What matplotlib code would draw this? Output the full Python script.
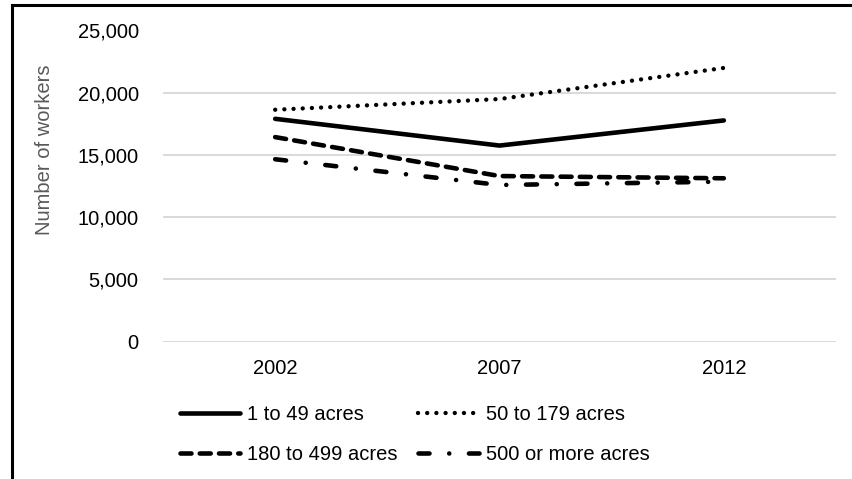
import matplotlib.pyplot as plt
from matplotlib.lines import Line2D

# farm workers by farm size
years = ['2002', '2007', '2012']
acres_1_49 = [17900, 15750, 17770]
acres_50_179 = [18630, 19490, 21990]
acres_180_499 = [16430, 13300, 13120]
acres_500_plus = [14650, 12580, 12850]
labels = ['1 to 49 acres', '50 to 179 acres', '180 to 499 acres', '500 or more acres']

plt.rcParams['font.family'] = ['Liberation Sans', 'DejaVu Sans']

W, H = 853, 479
fig = plt.figure(figsize=(W / 100, H / 100), dpi=100)
ax = fig.add_axes([163 / W, 1 - 341.5 / H, 673 / W, 311 / H])

x = range(len(years))
lw = 3.3
h1, = ax.plot(x, acres_1_49, color='black', lw=lw, solid_capstyle='round', solid_joinstyle='round')
h2, = ax.plot(x, acres_50_179, color='black', lw=lw * 0.95, linestyle=(0, (0.01, 2.1)),
              dash_capstyle='round')
h3, = ax.plot(x, acres_180_499, color='black', lw=lw, linestyle=(0, (2.4, 1.8)),
              dash_capstyle='round', dash_joinstyle='round')
h4, = ax.plot(x, acres_500_plus, color='black', lw=lw, linestyle=(0, (2.4, 4.3, 0.01, 4.3)),
              dash_capstyle='round', dash_joinstyle='round')

ax.set_xlim(-0.5, 2.5)
ax.set_ylim(0, 25000)
ax.set_yticks(range(0, 25001, 5000))
ax.set_yticklabels([f'{v:,}' for v in range(0, 25001, 5000)])
ax.set_xticks(list(x))
ax.set_xticklabels(years)
ax.tick_params(length=0, labelsize=14.5, colors='black')
ax.tick_params(axis='y', pad=17.5)
ax.tick_params(axis='x', pad=12.5)
ax.grid(axis='y', color='#d9d9d9', lw=1.4)
ax.set_axisbelow(True)
for s in ax.spines.values():
    s.set_visible(False)

fig.text(45 / W, 1 - 150 / H, 'Number of workers', rotation=90, ha='center', va='center',
         fontsize=14.5, color='#595959')

fig.legend([h1, h3, h2, h4], [labels[0], labels[2], labels[1], labels[3]],
           ncol=2, loc='upper left', bbox_to_anchor=(180 / W, 1 - 405 / H), frameon=False,
           fontsize=14.5, handlelength=3.0, handletextpad=0.35, columnspacing=1.0,
           labelspacing=1.05, borderpad=0, borderaxespad=0)

# outer frame
fig.add_artist(Line2D([12 / W, 12 / W], [0, 1 - 5 / H], color='black', lw=2.2))
fig.add_artist(Line2D([12 / W, 1.0], [1 - 5 / H, 1 - 5 / H], color='black', lw=2.2))

fig.savefig('out.png', dpi=100)
